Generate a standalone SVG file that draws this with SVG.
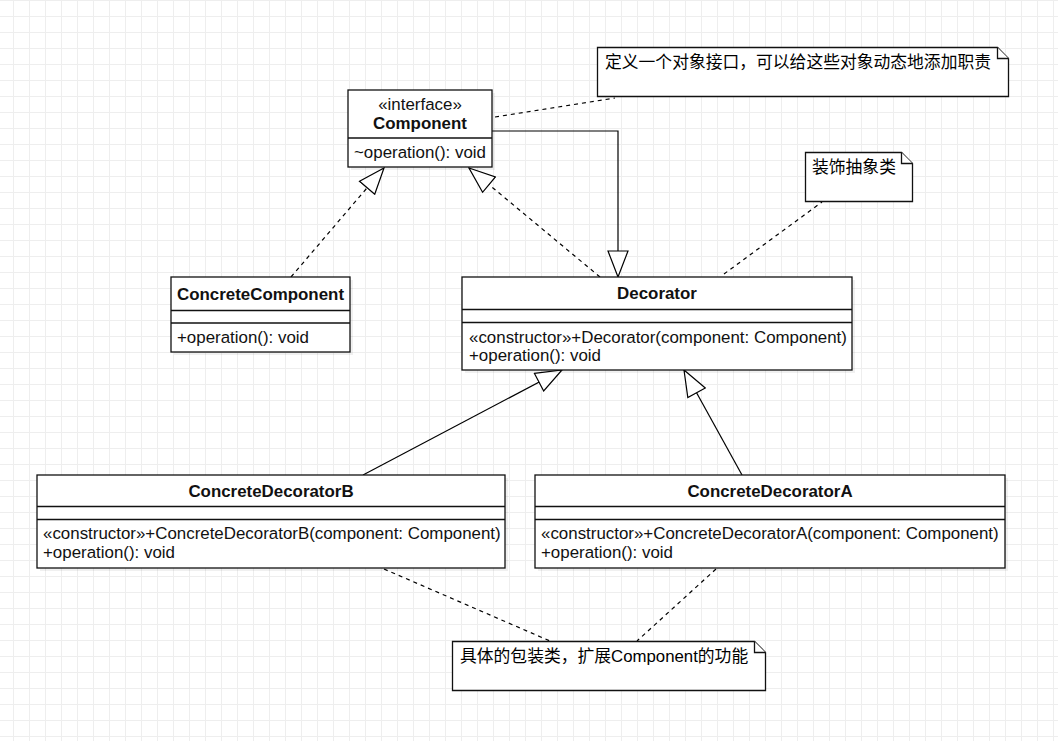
<svg xmlns="http://www.w3.org/2000/svg" width="1058" height="741" viewBox="0 0 1058 741">
<defs>
<pattern id="grid" x="13" y="0" width="16" height="16" patternUnits="userSpaceOnUse">
<path d="M0.5,0 V16 M0,0.5 H16" fill="none" stroke="#eeeeee" stroke-width="1"/>
</pattern>
<marker id="tri" viewBox="0 0 28 22" refX="27" refY="11" markerWidth="28" markerHeight="22" markerUnits="userSpaceOnUse" orient="auto">
<path d="M1,1 L27,11 L1,21 Z" fill="#ffffff" stroke="#000" stroke-width="1.2"/>
</marker>
</defs>
<style>
.box{fill:#fff;stroke:#111;stroke-width:1.3}
.shadow{fill:#000;opacity:0.06}
.div{stroke:#111;stroke-width:1.3}
.t{font-family:"Liberation Sans",Arial,sans-serif;font-size:16.9px;fill:#111}
.b{font-weight:bold;text-anchor:middle}
.c{text-anchor:middle}
.cjk{font-family:"Noto Sans CJK SC","Liberation Sans",sans-serif;font-size:16.8px;fill:#000}
.dash{fill:none;stroke:#000;stroke-width:1.2;stroke-dasharray:4,4}
.solid{fill:none;stroke:#000;stroke-width:1.2}
.note{fill:#fff;stroke:#111;stroke-width:1.3}
</style>
<rect width="1058" height="741" fill="#ffffff"/>
<rect width="1058" height="741" fill="url(#grid)"/>

<g id="connectors">
<line class="dash" x1="495" y1="117" x2="615" y2="98"/>
<line class="dash" x1="291" y1="277" x2="384" y2="168" marker-end="url(#tri)"/>
<line class="dash" x1="600" y1="277" x2="469" y2="168" marker-end="url(#tri)"/>
<polyline class="solid" points="492,131 618,131 618,277" marker-end="url(#tri)"/>
<line class="dash" x1="724" y1="274" x2="822" y2="202"/>
<line class="solid" x1="363" y1="475" x2="562" y2="370" marker-end="url(#tri)"/>
<line class="solid" x1="742" y1="475" x2="684" y2="370" marker-end="url(#tri)"/>
<line class="dash" x1="384" y1="569" x2="550" y2="641"/>
<line class="dash" x1="716" y1="569" x2="637" y2="641"/>
</g>

<g id="component">
<rect class="shadow" x="351" y="93" width="144" height="77"/>
<rect class="box" x="348" y="90" width="144" height="77"/>
<line class="div" x1="348" y1="138" x2="492" y2="138"/>
<text class="t c" x="420" y="110">«interface»</text>
<text class="t b" x="420" y="129">Component</text>
<text class="t" x="354" y="158">~operation(): void</text>
</g>

<g id="concreteComponent">
<rect class="shadow" x="174" y="280" width="179" height="75"/>
<rect class="box" x="171" y="277" width="179" height="75"/>
<line class="div" x1="171" y1="310.5" x2="350" y2="310.5"/>
<line class="div" x1="171" y1="323" x2="350" y2="323"/>
<text class="t b" x="260.5" y="300">ConcreteComponent</text>
<text class="t" x="177" y="343">+operation(): void</text>
</g>

<g id="decorator">
<rect class="shadow" x="465" y="280" width="390" height="93"/>
<rect class="box" x="462" y="277" width="390" height="93"/>
<line class="div" x1="462" y1="309.5" x2="852" y2="309.5"/>
<line class="div" x1="462" y1="322.5" x2="852" y2="322.5"/>
<text class="t b" x="657" y="299">Decorator</text>
<text class="t" x="469" y="342.5">«constructor»+Decorator(component: Component)</text>
<text class="t" x="469" y="361">+operation(): void</text>
</g>

<g id="concreteDecoratorB">
<rect class="shadow" x="40" y="478" width="468" height="93"/>
<rect class="box" x="37" y="475" width="468" height="93"/>
<line class="div" x1="37" y1="506.5" x2="505" y2="506.5"/>
<line class="div" x1="37" y1="519.5" x2="505" y2="519.5"/>
<text class="t b" x="271" y="497">ConcreteDecoratorB</text>
<text class="t" x="43" y="539">«constructor»+ConcreteDecoratorB(component: Component)</text>
<text class="t" x="43" y="558">+operation(): void</text>
</g>

<g id="concreteDecoratorA">
<rect class="shadow" x="538" y="478" width="470" height="93"/>
<rect class="box" x="535" y="475" width="470" height="93"/>
<line class="div" x1="535" y1="506.5" x2="1005" y2="506.5"/>
<line class="div" x1="535" y1="519.5" x2="1005" y2="519.5"/>
<text class="t b" x="770" y="497">ConcreteDecoratorA</text>
<text class="t" x="541" y="539">«constructor»+ConcreteDecoratorA(component: Component)</text>
<text class="t" x="541" y="558">+operation(): void</text>
</g>

<g id="note1">
<path class="note" d="M597.5,47.5 H997.5 L1008.5,58.5 V96.5 H597.5 Z"/>
<path class="note" d="M997.5,47.5 V58.5 H1008.5" fill="none"/>
<text class="cjk" x="605" y="68">定义一个对象接口，可以给这些对象动态地添加职责</text>
</g>

<g id="note2">
<path class="note" d="M805.5,152.5 H901.5 L912.5,163.5 V201.5 H805.5 Z"/>
<path class="note" d="M901.5,152.5 V163.5 H912.5" fill="none"/>
<text class="cjk" x="812" y="173">装饰抽象类</text>
</g>

<g id="note3">
<path class="note" d="M452.5,641.5 H754.5 L765.5,652.5 V690.5 H452.5 Z"/>
<path class="note" d="M754.5,641.5 V652.5 H765.5" fill="none"/>
<text class="cjk" x="460" y="662">具体的包装类，扩展<tspan font-family="Liberation Sans, Arial, sans-serif">Component</tspan>的功能</text>
</g>
</svg>
